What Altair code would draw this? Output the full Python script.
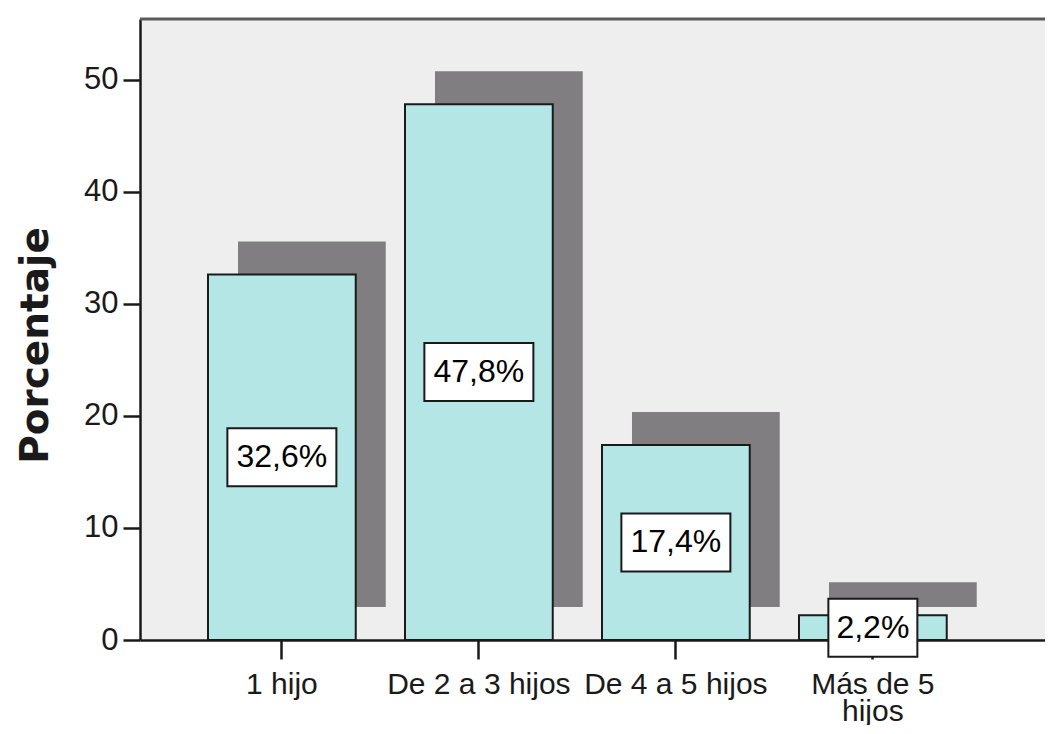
import altair as alt
import pandas as pd

categorias = ["1 hijo", "De 2 a 3 hijos", "De 4 a 5 hijos", "Más de 5 hijos"]
porcentajes = [32.6, 47.8, 17.4, 2.2]
etiquetas = ["32,6%", "47,8%", "17,4%", "2,2%"]
marcas_y = [0, 10, 20, 30, 40, 50]

df = pd.DataFrame({"cat": categorias, "pct": porcentajes, "lab": etiquetas})

W, H = 905, 621
INK = "#1a1a1a"

x_enc = alt.X(
    "cat:N",
    sort=categorias,
    scale=alt.Scale(paddingInner=0.25, paddingOuter=0.422, align=0.409),
    axis=alt.Axis(
        title=None, labelAngle=0, labelFont="Liberation Sans", labelFontSize=30,
        labelColor=INK, labelLimit=400, labelPadding=10, tickSize=19,
        tickWidth=2.5, tickColor=INK, domainColor=INK, domainWidth=2.5,
        labelExpr="datum.label == 'Más de 5 hijos' ? ['Más de 5', 'hijos'] : datum.label",
        labelLineHeight=27,
    ),
)

y_axis = alt.Axis(
    values=marcas_y, title="Porcentaje", titleFont="DejaVu Sans", titleFontSize=39,
    titleFontWeight="bold", titleColor=INK, titleX=-105, titleY=326, titleAngle=-90,
    titleAlign="center", titleBaseline="middle", grid=False,
    labelFont="Liberation Sans", labelFontSize=31, labelColor=INK, labelPadding=5,
    tickSize=17, tickWidth=2.5, tickColor=INK, domainColor=INK, domainWidth=2.5,
)
y_scale = alt.Scale(domain=[0, 55.4], nice=False)

base = alt.Chart(df)

sombra = base.mark_bar(color="#807e80", xOffset=30, yOffset=-33, y2Offset=-33).encode(
    x=x_enc, y=alt.Y("pct:Q", scale=y_scale, axis=y_axis)
)
barras = base.mark_bar(fill="#b4e6e6", stroke=INK, strokeWidth=2).encode(
    x=x_enc, y=alt.Y("pct:Q", scale=y_scale, axis=y_axis)
)
calc = base.transform_calculate(mid="datum.pct / 2", bw="length(datum.lab) * 20 + 9")
cajas = calc.mark_bar(fill="white", stroke=INK, strokeWidth=2, yOffset=-29, y2Offset=29).encode(
    x=x_enc,
    y=alt.Y("mid:Q", scale=y_scale, axis=y_axis),
    y2="mid:Q",
    size=alt.Size("bw:Q", scale=None, legend=None),
)
textos = calc.mark_text(font="Liberation Sans", fontSize=32, color="black", baseline="middle").encode(
    x=x_enc, y=alt.Y("mid:Q", scale=y_scale, axis=y_axis), text="lab:N"
)
borde = alt.Chart(pd.DataFrame({"k": [0]})).mark_rule(color="#5a5a5a", strokeWidth=3).encode(
    y=alt.value(0), x=alt.value(0), x2=alt.value(W)
)

chart = (
    alt.layer(sombra, barras, cajas, textos, borde)
    .properties(
        width=W, height=H,
        autosize=alt.AutoSizeParams(type="none"),
        padding={"left": 132, "top": 11, "right": 0, "bottom": 85},
        background="white",
    )
    .configure_view(fill="#eeeeee", strokeWidth=0)
)

chart.save("out.html", embed_options={"renderer": "svg", "actions": False})
